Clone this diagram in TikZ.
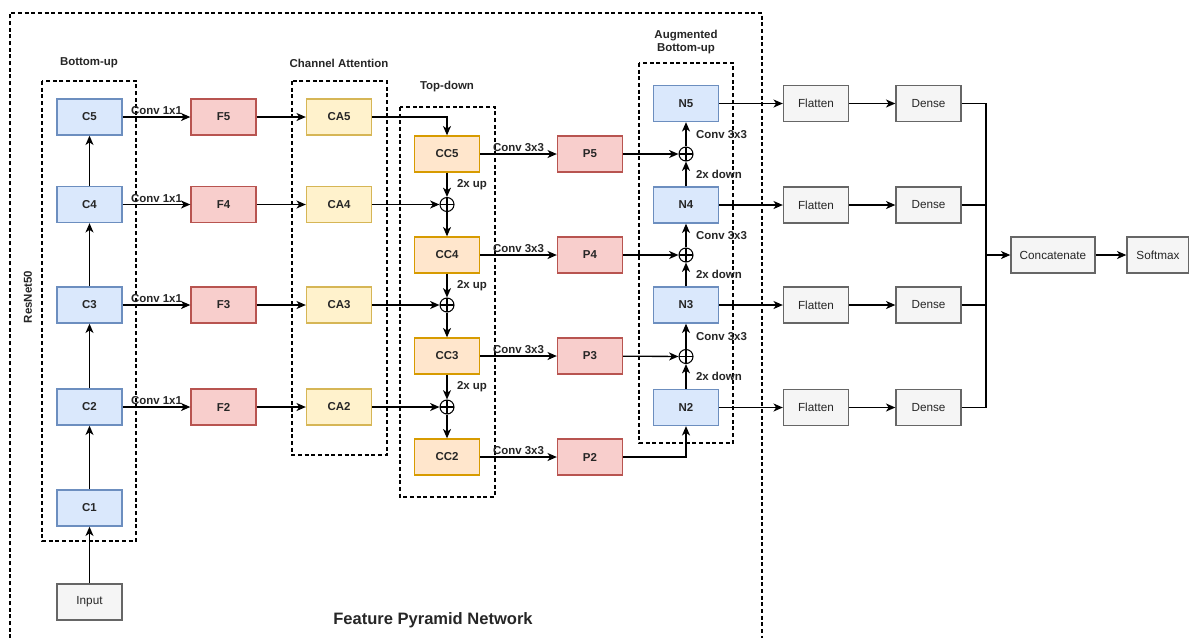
\documentclass[tikz,border=0pt]{standalone}
\usepackage{fontspec}
\setmainfont{Liberation Sans}
\usetikzlibrary{arrows.meta}
\definecolor{bluef}{HTML}{DAE8FC}\definecolor{blued}{HTML}{6C8EBF}
\definecolor{redf}{HTML}{F8CECC}\definecolor{redd}{HTML}{B85450}
\definecolor{yelf}{HTML}{FFF2CC}\definecolor{yeld}{HTML}{D6B656}
\definecolor{oraf}{HTML}{FFE6CC}\definecolor{orad}{HTML}{D79B00}
\definecolor{grayf}{HTML}{F5F5F5}\definecolor{grayd}{HTML}{666666}
\tikzset{
  box/.style={draw, line width=1pt, minimum width=48.75pt, minimum height=27pt, inner sep=0pt, text=black!85, font=\bfseries\fontsize{8.6}{10}\selectfont},
  cbox/.style={box, fill=bluef, draw=blued},
  fbox/.style={box, fill=redf, draw=redd},
  abox/.style={box, fill=yelf, draw=yeld},
  ccbox/.style={box, fill=oraf, draw=orad},
  gbox/.style={box, fill=grayf, draw=grayd, font=\fontsize{8.8}{10}\selectfont},
  conn/.style={line width=1pt, -{Stealth[length=7pt,width=6pt,inset=2pt]}},
  lbl/.style={font=\bfseries\fontsize{8.6}{10}\selectfont, inner sep=1pt, text=black!85},
  grp/.style={draw, dash pattern=on 3pt off 2pt, line width=0.8pt},
  plus/.style={circle, draw, line width=0.8pt, minimum size=10.5pt, inner sep=0pt,
    path picture={\draw[line width=0.8pt] (path picture bounding box.north) -- (path picture bounding box.south)
      (path picture bounding box.west) -- (path picture bounding box.east);}}
}
\begin{document}
\begin{tikzpicture}[x=0.75pt,y=-0.75pt]
\useasboundingbox (0,0) rectangle (1189,637);
\clip (0,0) rectangle (1189,637);
% outer frame
\draw[grp] (10,645) -- (10,13) -- (762,13) -- (762,645);
% group boxes
\draw[grp] (42,81) rectangle (136,541);
\draw[grp] (292,81) rectangle (387,455);
\draw[grp] (400,107) rectangle (495,497);
\draw[grp] (639,63) rectangle (733,443);
\node[lbl] (tbu) at (89,63) {Bottom-up};
\node[lbl] (tca) at (339,63) {Channel Attention};
\node[lbl] (ttd) at (447,87) {Top-down};
\node[lbl, align=center] (tab) at (686,42) {Augmented\\Bottom-up};
\node[lbl, rotate=90] (tres) at (28,297) {ResNet50};
\node[lbl, font=\bfseries\fontsize{12.4}{14}\selectfont] (tfpn) at (433,620) {Feature Pyramid Network};
% backbone
\node[gbox] (in) at (89.5,602) {Input};
\node[cbox] (C1) at (89.5,508) {C1};
\node[cbox] (C2) at (89.5,407) {C2};
\node[cbox] (C3) at (89.5,305) {C3};
\node[cbox] (C4) at (89.5,204.5) {C4};
\node[cbox] (C5) at (89.5,117) {C5};
\foreach \i/\y in {5/117,4/204.5,3/305,2/407}{
  \node[fbox] (F\i) at (223.5,\y) {F\i};
  \node[abox] (CA\i) at (339,\y) {CA\i};
}
\foreach \i/\y in {5/154,4/255,3/356,2/457}{
  \node[ccbox] (CC\i) at (447,\y) {CC\i};
  \node[fbox] (P\i) at (590,\y) {P\i};
}
\node[plus] (u4) at (447,204.5) {};
\node[plus] (u3) at (447,305) {};
\node[plus] (u2) at (447,407) {};
\foreach \i/\y in {5/103.5,4/205,3/305,2/407.5}{
  \node[cbox] (N\i) at (686,\y) {N\i};
  \node[gbox] (FL\i) at (816,\y) {Flatten};
  \node[gbox] (D\i) at (928.5,\y) {Dense};
}
\node[plus] (d5) at (686,154) {};
\node[plus] (d4) at (686,255) {};
\node[plus] (d3) at (686,356.5) {};
\node[gbox, minimum width=63pt] (cat) at (1053,255) {Concatenate};
\node[gbox, minimum width=46.5pt] (sm) at (1158,255) {Softmax};
\coordinate (mg) at (986,255);
% backbone arrows
\draw[conn] (in) -- (C1);
\draw[conn] (C1) -- (C2);
\draw[conn] (C2) -- (C3);
\draw[conn] (C3) -- (C4);
\draw[conn] (C4) -- (C5);
\foreach \i in {5,4,3,2}{
  \draw[conn] (C\i) -- node[lbl, above] {Conv 1x1} (F\i);
  \draw[conn] (F\i) -- (CA\i);
  \draw[conn] (CC\i) -- node[lbl, above] {Conv 3x3} (P\i);
  \draw[conn] (N\i) -- (FL\i);
  \draw[conn] (FL\i) -- (D\i);
  \draw[line width=1pt] (D\i.east) -| (mg);
}
\draw[conn] (mg) -- (cat);
\draw[conn] (cat) -- (sm);
% top-down
\draw[conn] (CA5.east) -| (CC5.north);
\draw[conn] (CA4) -- (u4);
\draw[conn] (CA3) -- (u3);
\draw[conn] (CA2) -- (u2);
\draw[conn] (CC5) -- node[lbl, right=6pt] {2x up} (u4);
\draw[conn] (u4) -- (CC4);
\draw[conn] (CC4) -- node[lbl, right=6pt] {2x up} (u3);
\draw[conn] (u3) -- (CC3);
\draw[conn] (CC3) -- node[lbl, right=6pt] {2x up} (u2);
\draw[conn] (u2) -- (CC2);
% augmented bottom-up
\draw[conn] (P5) -- (d5);
\draw[conn] (P4) -- (d4);
\draw[conn] (P3) -- (d3);
\draw[conn] (P2.east) -| (N2.south);
\draw[conn] (N2) -- node[lbl, right=6pt] {2x down} (d3);
\draw[conn] (d3) -- node[lbl, right=6pt] {Conv 3x3} (N3);
\draw[conn] (N3) -- node[lbl, right=6pt] {2x down} (d4);
\draw[conn] (d4) -- node[lbl, right=6pt] {Conv 3x3} (N4);
\draw[conn] (N4) -- node[lbl, right=6pt] {2x down} (d5);
\draw[conn] (d5) -- node[lbl, right=6pt] {Conv 3x3} (N5);
\end{tikzpicture}
\end{document}
